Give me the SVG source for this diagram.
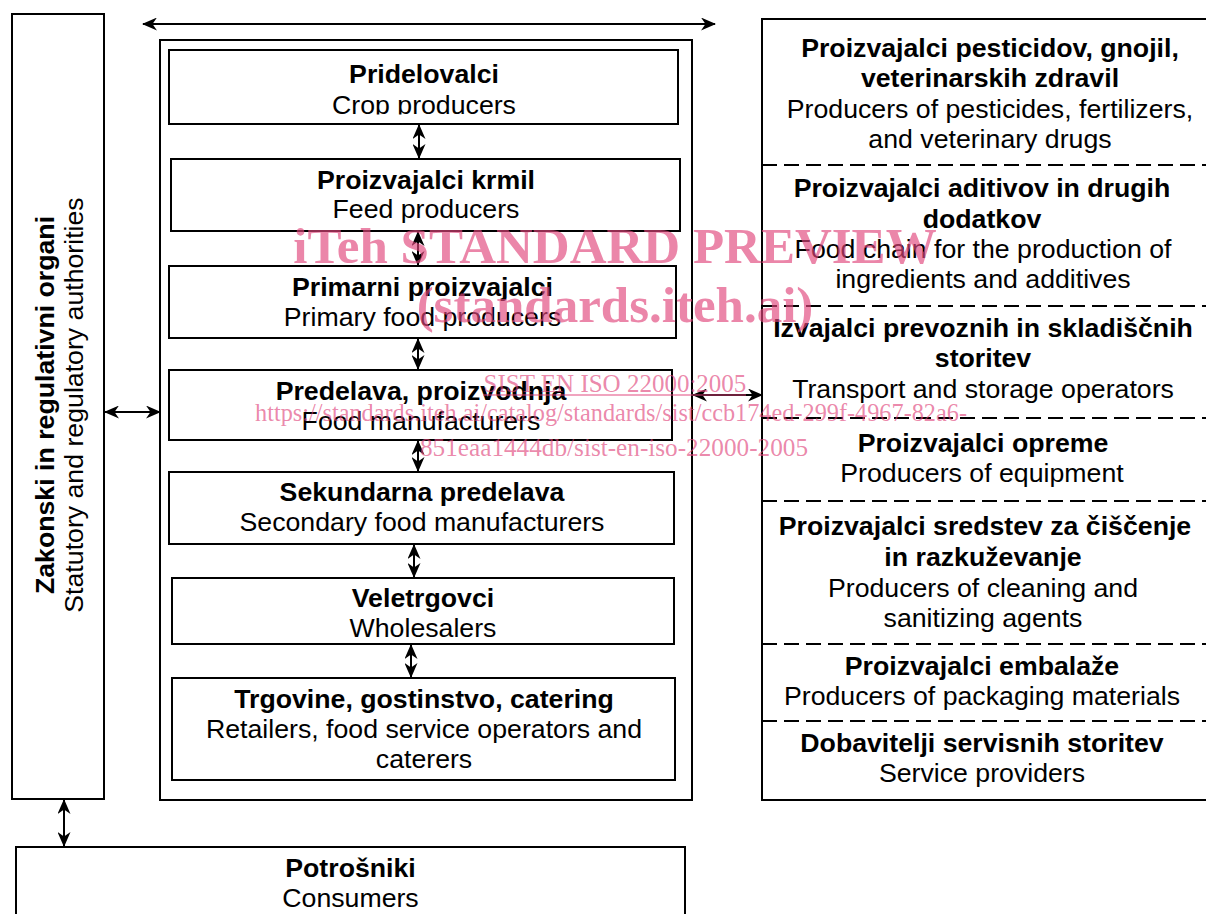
<svg xmlns="http://www.w3.org/2000/svg" width="1206" height="914" viewBox="0 0 1206 914">
<defs>
<style>
.box{fill:#fff;stroke:#000;stroke-width:2}
.b{font-family:"Liberation Sans",Arial,sans-serif;font-size:26.7px;font-weight:bold;fill:#000;text-anchor:middle}
.r{font-family:"Liberation Sans",Arial,sans-serif;font-size:26.7px;fill:#000;text-anchor:middle}
.conn{stroke:#000;stroke-width:2;fill:none;marker-start:url(#ah);marker-end:url(#ah)}
.dash{stroke:#000;stroke-width:2;stroke-dasharray:15 7;fill:none}
.wm{font-family:"Liberation Serif","Times New Roman",serif;fill:#e0457b;fill-opacity:0.65;text-anchor:middle}
</style>
<marker id="ah" viewBox="0 0 15 13" markerWidth="15" markerHeight="13" refX="14" refY="6.5" orient="auto-start-reverse" markerUnits="userSpaceOnUse">
<path d="M0,0 L15,6.5 L0,13 L4.5,6.5 Z" fill="#000"/>
</marker>
<clipPath id="clip1"><rect x="160" y="50" width="530" height="64.5"/></clipPath>
</defs>

<g id="authorities">
<rect class="box" x="12" y="14" width="92" height="785"/>
<text class="b" transform="translate(54,405) rotate(-90)">Zakonski in regulativni organi</text>
<text class="r" transform="translate(83,405) rotate(-90)">Statutory and regulatory authorities</text>
</g>

<g id="chain">
<rect class="box" x="160" y="40" width="532" height="760"/>
</g>

<g id="crop">
<rect class="box" x="169" y="50" width="509" height="74"/>
<text class="b" x="424" y="83">Pridelovalci</text>
<text class="r" x="424" y="114" clip-path="url(#clip1)">Crop producers</text>
</g>

<g id="feed">
<rect class="box" x="171" y="159" width="509" height="72"/>
<text class="b" x="426" y="189">Proizvajalci krmil</text>
<text class="r" x="426" y="218">Feed producers</text>
</g>

<g id="primary">
<rect class="box" x="169" y="266" width="507" height="72"/>
<text class="b" x="422.5" y="296">Primarni proizvajalci</text>
<text class="r" x="422.5" y="326">Primary food producers</text>
</g>

<g id="manufacturers">
<rect class="box" x="169" y="370" width="503" height="70"/>
<text class="b" x="421" y="400">Predelava, proizvodnja</text>
<text class="r" x="421" y="430">Food manufacturers</text>
</g>

<g id="secondary">
<rect class="box" x="169" y="472" width="505" height="72"/>
<text class="b" x="422" y="501">Sekundarna predelava</text>
<text class="r" x="422" y="531">Secondary food manufacturers</text>
</g>

<g id="wholesalers">
<rect class="box" x="172" y="578" width="502" height="66"/>
<text class="b" x="423" y="607">Veletrgovci</text>
<text class="r" x="423" y="637">Wholesalers</text>
</g>

<g id="retailers">
<rect class="box" x="172" y="678" width="503" height="102"/>
<text class="b" x="424" y="708">Trgovine, gostinstvo, catering</text>
<text class="r" x="424" y="738">Retailers, food service operators and</text>
<text class="r" x="424" y="768">caterers</text>
</g>

<g id="suppliers">
<rect class="box" x="762" y="19" width="500" height="781"/>
<line class="dash" x1="762" y1="165" x2="1206" y2="165"/>
<line class="dash" x1="762" y1="306" x2="1206" y2="306"/>
<line class="dash" x1="762" y1="418" x2="1206" y2="418"/>
<line class="dash" x1="762" y1="501" x2="1206" y2="501"/>
<line class="dash" x1="762" y1="644" x2="1206" y2="644"/>
<line class="dash" x1="762" y1="721" x2="1206" y2="721"/>
<text class="b" x="990" y="57">Proizvajalci pesticidov, gnojil,</text>
<text class="b" x="990" y="87">veterinarskih zdravil</text>
<text class="r" x="990" y="118">Producers of pesticides, fertilizers,</text>
<text class="r" x="990" y="148">and veterinary drugs</text>
<text class="b" x="982" y="197">Proizvajalci aditivov in drugih</text>
<text class="b" x="982" y="228">dodatkov</text>
<text class="r" x="983" y="258">Food chain for the production of</text>
<text class="r" x="983" y="288">ingredients and additives</text>
<text class="b" x="983" y="337">Izvajalci prevoznih in skladiščnih</text>
<text class="b" x="983" y="367">storitev</text>
<text class="r" x="983" y="398">Transport and storage operators</text>
<text class="b" x="983" y="452">Proizvajalci opreme</text>
<text class="r" x="982" y="482">Producers of equipment</text>
<text class="b" x="985" y="535">Proizvajalci sredstev za čiščenje</text>
<text class="b" x="983" y="566">in razkuževanje</text>
<text class="r" x="983" y="597">Producers of cleaning and</text>
<text class="r" x="983" y="627">sanitizing agents</text>
<text class="b" x="982" y="675">Proizvajalci embalaže</text>
<text class="r" x="982" y="705">Producers of packaging materials</text>
<text class="b" x="982" y="752">Dobavitelji servisnih storitev</text>
<text class="r" x="982" y="782">Service providers</text>
</g>

<g id="consumers">
<rect class="box" x="16" y="847" width="669" height="80"/>
<text class="b" x="350.5" y="877">Potrošniki</text>
<text class="r" x="350.5" y="907">Consumers</text>
</g>

<g id="connectors">
<line class="conn" x1="143" y1="24" x2="715" y2="24"/>
<line class="conn" x1="419" y1="125" x2="419" y2="158"/>
<line class="conn" x1="418" y1="232" x2="418" y2="265"/>
<line class="conn" x1="418" y1="339" x2="418" y2="369"/>
<line class="conn" x1="418" y1="441" x2="418" y2="471"/>
<line class="conn" x1="414" y1="545" x2="414" y2="577"/>
<line class="conn" x1="411" y1="645" x2="411" y2="677"/>
<line class="conn" x1="105" y1="412" x2="160" y2="412"/>
<line class="conn" x1="693" y1="395" x2="762" y2="395"/>
<line class="conn" x1="64" y1="800" x2="64" y2="846"/>
</g>

<g id="watermark">
<text class="wm" x="615" y="263" font-size="51" font-weight="bold">iTeh STANDARD PREVIEW</text>
<text class="wm" x="615" y="322" font-size="51" font-weight="bold">(standards.iteh.ai)</text>
<text class="wm" x="615" y="392" font-size="25">SIST EN ISO 22000:2005</text>
<line x1="483" y1="395" x2="746" y2="395" stroke="#e0457b" stroke-opacity="0.65" stroke-width="1.5"/>
<text class="wm" x="611" y="421" font-size="25" textLength="712" lengthAdjust="spacingAndGlyphs">https://standards.iteh.ai/catalog/standards/sist/ccb174ed-299f-4967-82a6-</text>
<text class="wm" x="614" y="456" font-size="25" textLength="388" lengthAdjust="spacingAndGlyphs">851eaa1444db/sist-en-iso-22000-2005</text>
</g>
</svg>
